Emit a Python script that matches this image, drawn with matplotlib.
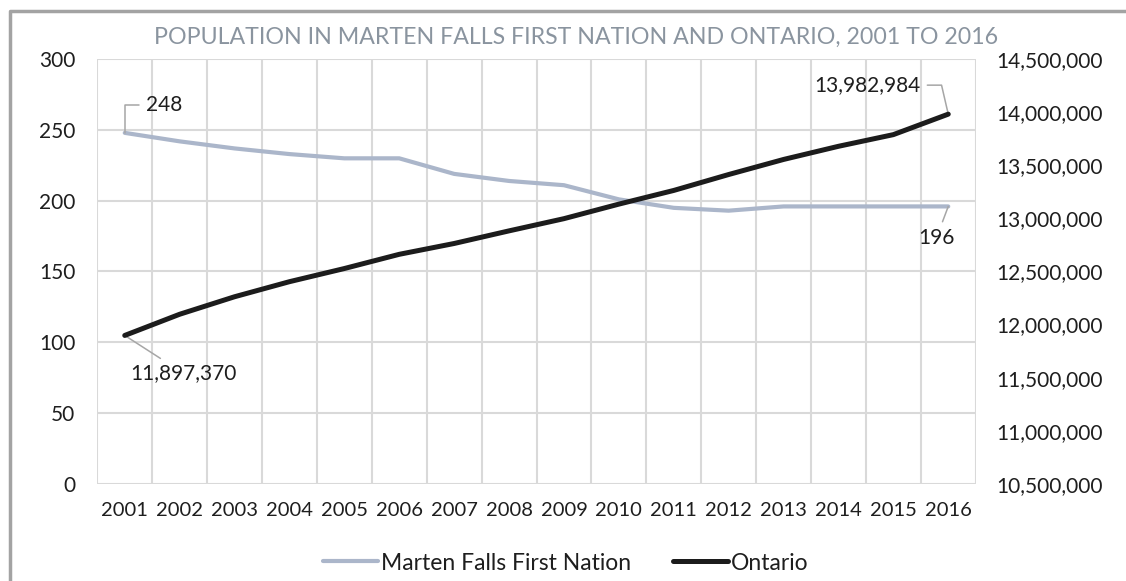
import matplotlib
matplotlib.use("Agg")
import matplotlib.pyplot as plt
from matplotlib.lines import Line2D
from matplotlib.ticker import FuncFormatter, MultipleLocator, FixedLocator

years = ["2001", "2002", "2003", "2004", "2005", "2006", "2007", "2008",
         "2009", "2010", "2011", "2012", "2013", "2014", "2015", "2016"]
marten_falls = [248, 242, 237, 233, 230, 230, 219, 214, 211, 201, 195, 193,
                196, 196, 196, 196]
ontario = [11897370, 12097000, 12262000, 12404000, 12528000, 12662000,
           12764000, 12883000, 12998000, 13135000, 13264000, 13414000,
           13556000, 13680000, 13790000, 13982984]
series_names = ["Marten Falls First Nation", "Ontario"]
title = "POPULATION IN MARTEN FALLS FIRST NATION AND ONTARIO, 2001 TO 2016"

W, H = 1126, 581
FONT = "Lato"
plt.rcParams["font.family"] = [FONT, "DejaVu Sans"]
fs = 15
txt_color = "#1e1e1e"
mf_color = "#abb6ca"
on_color = "#1c1c1c"
grid_color = "#d9d9d9"
leader_color = "#a6a6a6"

fig = plt.figure(figsize=(W / 100, H / 100), dpi=100)
fig.patch.set_facecolor("white")

L, R, T, B = 97.3, 975.7, 59.3, 483.7
ax = fig.add_axes([L / W, 1 - B / H, (R - L) / W, (B - T) / H])
ax2 = ax.twinx()

x = list(range(len(years)))
ax.set_xlim(-0.5, len(years) - 0.5)
ax.set_ylim(0, 300)
ax2.set_ylim(10500000, 14500000)

ax.yaxis.set_major_locator(MultipleLocator(50))
ax2.yaxis.set_major_locator(MultipleLocator(500000))
ax2.yaxis.set_major_formatter(FuncFormatter(lambda v, p: f"{int(round(v)):,}"))
ax.set_xticks(x)
ax.set_xticklabels(years)
ax.xaxis.set_minor_locator(FixedLocator([i - 0.5 for i in range(len(years) + 1)]))

ax.grid(True, axis="y", which="major", color=grid_color, lw=1.5)
ax.grid(True, axis="x", which="minor", color=grid_color, lw=1.5)
ax.grid(False, axis="x", which="major")
ax.set_axisbelow(True)
for a in (ax, ax2):
    for s in a.spines.values():
        s.set_visible(False)
ax.tick_params(axis="both", which="both", length=0, labelsize=fs, labelcolor=txt_color)
ax.tick_params(axis="x", labelsize=14.5, pad=18 * 0.72)
ax.tick_params(axis="y", pad=22 * 0.72)
ax2.tick_params(axis="y", length=0, labelsize=fs, labelcolor=txt_color, pad=21 * 0.72)

l1, = ax.plot(x, marten_falls, color=mf_color, lw=3.0, solid_capstyle="round",
              solid_joinstyle="round", zorder=3, label=series_names[0])
l2, = ax2.plot(x, ontario, color=on_color, lw=3.6, solid_capstyle="round",
               solid_joinstyle="round", zorder=4, label=series_names[1])

arrow = dict(arrowstyle="-", color=leader_color, lw=1.1, shrinkA=3, shrinkB=0)

# data labels
ax.annotate(f"{marten_falls[0]}", xy=(x[0], marten_falls[0]), xytext=(39, 28),
            textcoords="offset pixels", ha="center", va="center", fontsize=fs,
            color=txt_color,
            arrowprops=dict(arrow, connectionstyle="angle,angleA=0,angleB=90,rad=0"))
ax.annotate(f"{marten_falls[-1]}", xy=(x[-1], marten_falls[-1]), xytext=(-12, -32),
            textcoords="offset pixels", ha="center", va="center", fontsize=fs,
            color=txt_color, arrowprops=arrow)
ax2.annotate(f"{ontario[0]:,}", xy=(x[0], ontario[0]), xytext=(59, -38),
             textcoords="offset pixels", ha="center", va="center", fontsize=fs,
             color=txt_color, arrowprops=arrow)
ax2.annotate(f"{ontario[-1]:,}", xy=(x[-1], ontario[-1]), xytext=(-81, 29),
             textcoords="offset pixels", ha="center", va="center", fontsize=fs,
             color=txt_color,
             arrowprops=dict(arrow, connectionstyle="angle,angleA=0,angleB=103,rad=0"))

fig.text(576 / W, 1 - 37 / H, title, ha="center", va="center", fontsize=16.7,
         color="#8a949f")

fig.legend(handles=[l1, l2], labels=series_names, loc="center",
           bbox_to_anchor=(566 / W, 1 - 563 / H), ncol=2, frameon=False,
           fontsize=16.5, handlelength=2.4, handletextpad=0.15, columnspacing=1.8,
           labelcolor=txt_color)

# chart frame (left and top edges visible)
fig.add_artist(Line2D([9.5 / W, 9.5 / W, 1.0], [0.0, 1 - 10.5 / H, 1 - 10.5 / H],
                      transform=fig.transFigure, color="#a3a3a3", lw=2.5))

fig.savefig("out.png", dpi=100, facecolor="white")
